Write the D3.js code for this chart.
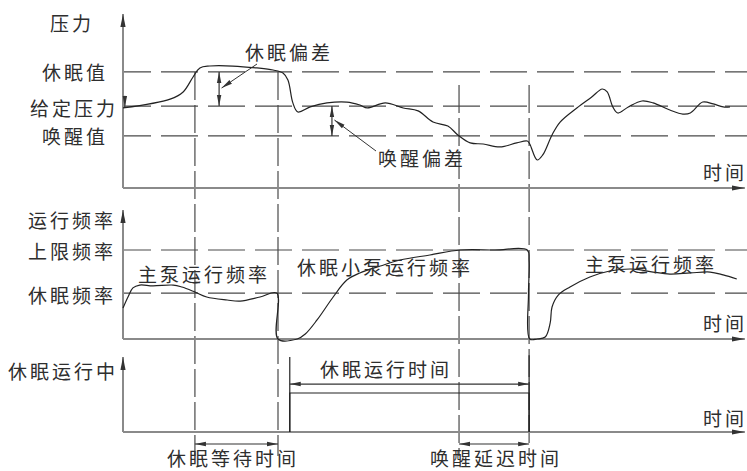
<!DOCTYPE html>
<html>
<head>
<meta charset="utf-8">
<script src="https://cdn.jsdelivr.net/npm/d3@7"></script>
<style>
body { margin: 0; background: #fff; }
text { font-family: "Noto Sans CJK SC", "Noto Sans", sans-serif; font-size: 19px; fill: #2e2e2e; letter-spacing: 3px; }
</style>
</head>
<body>
<div id="chart"></div>
<script>
// time axis shared by all three panels (0..100)
var pressT = [0, 7.6, 9.7, 11.3, 12.4, 14.0, 17.7, 21.6, 24.2, 25.8, 26.6, 27.4, 28.2, 30.2, 32.9, 36.1, 38.2, 39.4, 42.3, 45.2,
	47.6, 50.0, 52.4, 54.0, 56.0, 58.1, 60.8, 63.5, 65.2, 65.6, 66.8, 67.7, 69.2, 70.5, 73.2, 75.6, 77.3, 78.1, 79.0, 79.8,
	81.5, 83.7, 85.5, 88.2, 90.3, 91.5, 93.5, 95.2, 96.8, 97.9];
var pressV = [46.0, 51.1, 55.2, 63.8, 69.0, 70.1, 70.1, 69.0, 67.8, 66.1, 62.1, 48.9, 43.7, 46.6, 48.9, 49.4, 47.7, 46.0, 48.9, 46.0,
	44.3, 37.9, 35.6, 30.5, 25.9, 25.3, 23.6, 25.9, 27.0, 25.3, 16.1, 19.0, 30.5, 37.9, 46.0, 52.3, 56.9, 55.2, 46.6, 43.1,
	46.6, 50.0, 48.9, 44.8, 42.5, 43.1, 49.4, 48.3, 46.6, 46.6];

var freqT = [0, 0.8, 1.6, 2.7, 4.8, 8.1, 9.5, 11.6, 13.5, 16.8, 18.9, 22.1, 24.8, 25.0, 28.1, 29.4, 31.3, 33.9, 36.1, 38.2,
	41.5, 44.7, 49.5, 54.4, 60.0, 65.2, 65.5, 65.4, 65.6, 66.8, 68.1, 68.9, 69.2, 70.2, 72.1, 75.3, 78.5, 82.3, 85.5, 88.2,
	91.5, 94.7, 96.8, 99.0];
var freqV = [17.4, 23.6, 28.7, 30.3, 29.8, 30.3, 29.2, 26.4, 23.6, 21.9, 21.3, 23.6, 25.8, 0, 0, 2.8, 10.7, 23.6, 33.1, 37.1,
	41.0, 44.4, 47.2, 50, 50, 50, 44, 25, 0, 0, 1.1, 9, 18, 24.7, 29.2, 34.8, 38.2, 39.3, 37.6, 36.5,
	37.1, 37.6, 36.0, 33.7];

var sleepT = [26.9, 26.9, 65.5, 65.5];
var sleepS = [0, 1, 1, 0];

var pressLevelNames = ["休眠值", "给定压力", "唤醒值"];
var pressLevels = [66.7, 47.1, 29.9];
var freqLevelNames = ["上限频率", "休眠频率"];
var freqLevels = [50, 25.8];

// moments: sleep start, sleep wait end, wake, wake delay end
var eventT = [11.6, 25.0, 54.2, 65.5];

var width = 747, height = 471;

var svg = d3.select("#chart").append("svg")
	.attr("width", width)
	.attr("height", height);

var x = d3.scaleLinear().domain([0, 100]).range([123, 743]);
var yP = d3.scaleLinear().domain([0, 100]).range([188, 14]);
var yF = d3.scaleLinear().domain([0, 50]).range([339, 250]);
var yS = d3.scaleLinear().domain([0, 1]).range([432, 393]);

var defs = svg.append("defs");
defs.append("marker")
	.attr("id", "axArrow")
	.attr("viewBox", "0 -3 13 6")
	.attr("refX", 13).attr("refY", 0)
	.attr("markerUnits", "userSpaceOnUse")
	.attr("markerWidth", 13).attr("markerHeight", 6)
	.attr("orient", "auto")
	.append("path").attr("d", "M0,-2.6L13,0L0,2.6Z").attr("fill", "#333");
defs.append("marker")
	.attr("id", "dimArrow")
	.attr("viewBox", "0 -3 11 6")
	.attr("refX", 11).attr("refY", 0)
	.attr("markerUnits", "userSpaceOnUse")
	.attr("markerWidth", 11).attr("markerHeight", 6)
	.attr("orient", "auto-start-reverse")
	.append("path").attr("d", "M0,-2.2L11,0L0,2.2Z").attr("fill", "#333");

// dashed reference levels
var levelDash = "37,10";
pressLevels.forEach(function (v) {
	svg.append("line")
		.attr("x1", x(0)).attr("x2", width)
		.attr("y1", yP(v)).attr("y2", yP(v))
		.attr("stroke", "#4a4a4a").attr("stroke-width", 1.2)
		.attr("stroke-dasharray", levelDash).attr("stroke-dashoffset", 9);
});
freqLevels.forEach(function (v) {
	svg.append("line")
		.attr("x1", x(0)).attr("x2", width)
		.attr("y1", yF(v)).attr("y2", yF(v))
		.attr("stroke", "#4a4a4a").attr("stroke-width", 1.2)
		.attr("stroke-dasharray", levelDash).attr("stroke-dashoffset", 9);
});

// vertical event lines
var eventTop = [pressLevels[0], pressLevels[0], 59.2, 59.2];
eventT.forEach(function (t, i) {
	svg.append("line")
		.attr("x1", x(t)).attr("x2", x(t))
		.attr("y1", yP(eventTop[i])).attr("y2", 456)
		.attr("stroke", "#4a4a4a").attr("stroke-width", 1.2)
		.attr("stroke-dasharray", "28,5");
});

// axes
var panels = [{ y: yP, top: 100 }, { y: yF, top: 72.5 }, { y: yS, top: 1.92 }];
panels.forEach(function (p) {
	svg.append("line")
		.attr("x1", x(0)).attr("x2", x(100.3))
		.attr("y1", p.y(0)).attr("y2", p.y(0))
		.attr("stroke", "#8a8a8a").attr("stroke-width", 2)
		.attr("marker-end", "url(#axArrow)");
	svg.append("line")
		.attr("x1", x(0)).attr("x2", x(0))
		.attr("y1", p.y(0)).attr("y2", p.y(p.top))
		.attr("stroke", "#8a8a8a").attr("stroke-width", 2)
		.attr("marker-end", "url(#axArrow)");
});

// curves
var pressData = pressT.map(function (t, i) { return { t: t, v: pressV[i] }; });
var freqData = freqT.map(function (t, i) { return { t: t, v: freqV[i] }; });
var sleepData = sleepT.map(function (t, i) { return { t: t, v: sleepS[i] }; });

svg.append("path")
	.datum(pressData)
	.attr("fill", "none").attr("stroke", "#222").attr("stroke-width", 1.2)
	.attr("d", d3.line().x(d => x(d.t)).y(d => yP(d.v)).curve(d3.curveCatmullRom.alpha(0.5)));

svg.append("path")
	.datum(freqData)
	.attr("fill", "none").attr("stroke", "#222").attr("stroke-width", 1.2)
	.attr("d", d3.line().x(d => x(d.t)).y(d => yF(d.v)).curve(d3.curveCatmullRom.alpha(0.5)));

svg.append("path")
	.datum(sleepData)
	.attr("fill", "none").attr("stroke", "#222").attr("stroke-width", 1.2)
	.attr("d", d3.line().x(d => x(d.t)).y(d => yS(d.v)));

// extension lines above the sleep pulse
svg.append("line")
	.attr("x1", x(sleepT[0])).attr("x2", x(sleepT[0]))
	.attr("y1", yS(1.92)).attr("y2", yS(0))
	.attr("stroke", "#222").attr("stroke-width", 1.2);
svg.append("line")
	.attr("x1", x(sleepT[2])).attr("x2", x(sleepT[2]))
	.attr("y1", yS(1.97)).attr("y2", yS(0))
	.attr("stroke", "#222").attr("stroke-width", 1.2);

// dimension arrows
function dim(x1, y1, x2, y2) {
	svg.append("line")
		.attr("x1", x1).attr("y1", y1).attr("x2", x2).attr("y2", y2)
		.attr("stroke", "#333").attr("stroke-width", 1.2)
		.attr("marker-start", "url(#dimArrow)")
		.attr("marker-end", "url(#dimArrow)");
}
dim(x(15.5), yP(pressLevels[0]), x(15.5), yP(pressLevels[1]));
dim(x(33.7), yP(pressLevels[1]), x(33.7), yP(pressLevels[2]));
dim(x(sleepT[0]), yS(1.23), x(sleepT[2]), yS(1.23));
dim(x(eventT[0]), 444, x(eventT[1]), 444);
dim(x(eventT[2]), 444, x(eventT[3]), 444);

// leaders
function leader(x1, y1, x2, y2) {
	svg.append("line")
		.attr("x1", x1).attr("y1", y1).attr("x2", x2).attr("y2", y2)
		.attr("stroke", "#333").attr("stroke-width", 1)
		.attr("marker-end", "url(#dimArrow)");
}
leader(257, 64, x(15.9), 88);
leader(376, 151, x(34.1), 120);

// small mark on the pressure axis at the set pressure
svg.append("line")
	.attr("x1", x(0.3)).attr("x2", x(0.3))
	.attr("y1", yP(53)).attr("y2", yP(46.5))
	.attr("stroke", "#333").attr("stroke-width", 1)
	.attr("marker-end", "url(#dimArrow)");

// labels
var labels = [
	["压力", 50, 22],
	[pressLevelNames[0], 42, yP(pressLevels[0])],
	[pressLevelNames[1], 30, yP(pressLevels[1]) + 1],
	[pressLevelNames[2], 42, yP(pressLevels[2])],
	["休眠偏差", 245, 51],
	["唤醒偏差", 378, 157],
	["时间", 703, 171],
	["运行频率", 28, 219],
	[freqLevelNames[0], 28, yF(freqLevels[0])],
	[freqLevelNames[1], 28, yF(freqLevels[1]) + 1],
	["主泵运行频率", 138, 273],
	["休眠小泵运行频率", 297, 266],
	["主泵运行频率", 585, 263],
	["时间", 703, 322],
	["休眠运行中", 8, 370],
	["休眠运行时间", 320, 368],
	["时间", 703, 417],
	["休眠等待时间", 167, 457],
	["唤醒延迟时间", 430, 457]
];
svg.selectAll(".lbl")
	.data(labels)
	.enter()
	.append("text")
	.attr("class", "lbl")
	.attr("x", d => d[1])
	.attr("y", d => d[2])
	.attr("dominant-baseline", "central")
	.text(d => d[0]);
</script>
</body>
</html>
